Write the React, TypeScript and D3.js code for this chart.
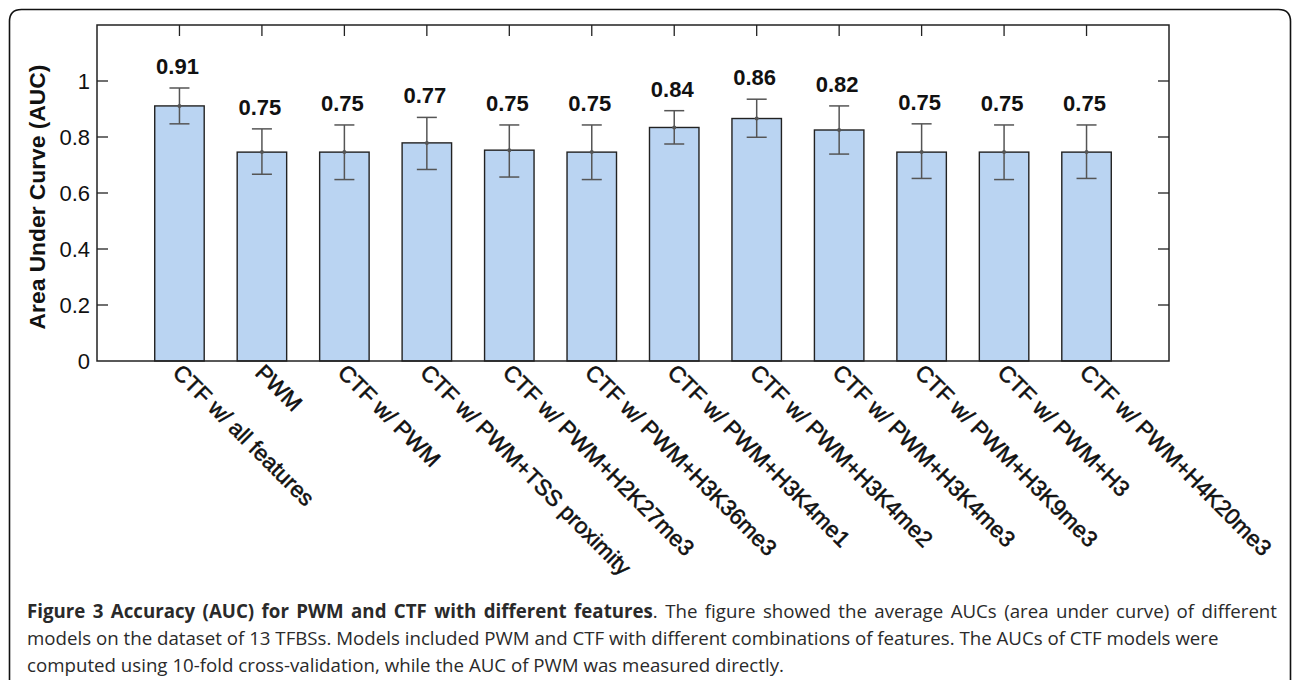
import { useRef, useEffect } from 'react';
import * as d3 from 'd3';

const CATEGORIES = [
  'CTF w/ all features',
  'PWM',
  'CTF w/ PWM',
  'CTF w/ PWM+TSS proximity',
  'CTF w/ PWM+H2K27me3',
  'CTF w/ PWM+H3K36me3',
  'CTF w/ PWM+H3K4me1',
  'CTF w/ PWM+H3K4me2',
  'CTF w/ PWM+H3K4me3',
  'CTF w/ PWM+H3K9me3',
  'CTF w/ PWM+H3',
  'CTF w/ PWM+H4K20me3',
];

const AUC_MEAN = [0.911, 0.746, 0.746, 0.779, 0.753, 0.746, 0.834, 0.866, 0.825, 0.746, 0.746, 0.746];
const AUC_HIGH = [0.975, 0.829, 0.843, 0.870, 0.843, 0.843, 0.894, 0.935, 0.911, 0.847, 0.843, 0.843];
const AUC_LOW = [0.847, 0.667, 0.648, 0.684, 0.657, 0.648, 0.775, 0.799, 0.739, 0.652, 0.648, 0.652];
const BAR_LABELS = ['0.91', '0.75', '0.75', '0.77', '0.75', '0.75', '0.84', '0.86', '0.82', '0.75', '0.75', '0.75'];
const Y_TICKS = [0, 0.2, 0.4, 0.6, 0.8, 1];
const Y_TICK_LABELS = ['0', '0.2', '0.4', '0.6', '0.8', '1'];

const CAPTION_TITLE = 'Figure 3 Accuracy (AUC) for PWM and CTF with different features';
const CAPTION_LINES = [
  '. The figure showed the average AUCs (area under curve) of different',
  'models on the dataset of 13 TFBSs. Models included PWM and CTF with different combinations of features. The AUCs of CTF models were',
  'computed using 10-fold cross-validation, while the AUC of PWM was measured directly.',
];

const W = 1292;
const H = 680;
const FONT = '"Liberation Sans", Arial, sans-serif';
const CAPTION_FONT = '"Open Sans", "Noto Sans", sans-serif';

export default function App() {
  const svgRef = useRef<SVGSVGElement | null>(null);

  useEffect(() => {
    const svg = d3.select(svgRef.current);
    svg.selectAll('*').remove();

    const left = 97;
    const right = 1169;
    const top = 25;
    const bottom = 361;

    const x = d3.scaleLinear().domain([0, CATEGORIES.length + 1]).range([left, right]);
    const y = d3.scaleLinear().domain([0, 1.2]).range([bottom, top]);
    const barW = (x(1) - x(0)) * 0.6;

    // outer frame (open at the bottom, the page cuts it off)
    svg
      .append('path')
      .attr('d', `M9.5,${H + 5} V21.5 Q9.5,9.5 21.5,9.5 H1278.5 Q1290.5,9.5 1290.5,21.5 V${H + 5}`)
      .attr('fill', 'none')
      .attr('stroke', '#111')
      .attr('stroke-width', 1.6);

    const g = svg.append('g');

    // bars
    g.selectAll('.bar')
      .data(AUC_MEAN)
      .join('rect')
      .attr('class', 'bar')
      .attr('x', (_, i) => x(i + 1) - barW / 2)
      .attr('y', (d) => y(d))
      .attr('width', barW)
      .attr('height', (d) => y(0) - y(d))
      .attr('fill', '#bad4f2')
      .attr('stroke', '#222')
      .attr('stroke-width', 1.4);

    // error bars
    const err = g.selectAll('.err').data(AUC_MEAN).join('g').attr('class', 'err');
    err.append('line')
      .attr('x1', (_, i) => x(i + 1))
      .attr('x2', (_, i) => x(i + 1))
      .attr('y1', (_, i) => y(AUC_LOW[i]))
      .attr('y2', (_, i) => y(AUC_HIGH[i]));
    err.append('line')
      .attr('x1', (_, i) => x(i + 1) - 10)
      .attr('x2', (_, i) => x(i + 1) + 10)
      .attr('y1', (_, i) => y(AUC_HIGH[i]))
      .attr('y2', (_, i) => y(AUC_HIGH[i]));
    err.append('line')
      .attr('x1', (_, i) => x(i + 1) - 10)
      .attr('x2', (_, i) => x(i + 1) + 10)
      .attr('y1', (_, i) => y(AUC_LOW[i]))
      .attr('y2', (_, i) => y(AUC_LOW[i]));
    err.selectAll('line').attr('stroke', '#555').attr('stroke-width', 1.5);
    err.append('circle')
      .attr('cx', (_, i) => x(i + 1))
      .attr('cy', (d) => y(d))
      .attr('r', 2)
      .attr('fill', '#555');

    // value labels
    g.selectAll('.val')
      .data(BAR_LABELS)
      .join('text')
      .attr('class', 'val')
      .attr('x', (_, i) => x(i + 1) - 2)
      .attr('y', (_, i) => y(AUC_HIGH[i]) - 14)
      .attr('text-anchor', 'middle')
      .attr('font-family', FONT)
      .attr('font-weight', 'bold')
      .attr('font-size', 22)
      .attr('fill', '#111')
      .text((d) => d);

    // axes box
    g.append('rect')
      .attr('x', left)
      .attr('y', top)
      .attr('width', right - left)
      .attr('height', bottom - top)
      .attr('fill', 'none')
      .attr('stroke', '#222')
      .attr('stroke-width', 1.5);

    // y ticks (inward, both sides)
    const yt = g.selectAll('.yt').data(Y_TICKS.slice(1)).join('g').attr('class', 'yt');
    yt.append('line').attr('x1', left).attr('x2', left + 11).attr('y1', (d) => y(d)).attr('y2', (d) => y(d));
    yt.append('line').attr('x1', right - 11).attr('x2', right).attr('y1', (d) => y(d)).attr('y2', (d) => y(d));
    yt.selectAll('line').attr('stroke', '#222').attr('stroke-width', 1.3);

    g.selectAll('.ytl')
      .data(Y_TICKS)
      .join('text')
      .attr('class', 'ytl')
      .attr('x', left - 7)
      .attr('y', (d) => y(d))
      .attr('dy', '0.36em')
      .attr('text-anchor', 'end')
      .attr('font-family', FONT)
      .attr('font-size', 22)
      .attr('fill', '#111')
      .text((_, i) => Y_TICK_LABELS[i]);

    // top ticks
    g.selectAll('.xt')
      .data(CATEGORIES)
      .join('line')
      .attr('class', 'xt')
      .attr('x1', (_, i) => x(i + 1))
      .attr('x2', (_, i) => x(i + 1))
      .attr('y1', top)
      .attr('y2', top + 11)
      .attr('stroke', '#222')
      .attr('stroke-width', 1.3);

    // rotated category labels
    g.selectAll('.xl')
      .data(CATEGORIES)
      .join('text')
      .attr('class', 'xl')
      .attr('transform', (_, i) => `translate(${x(i + 1) + 4},${bottom + 1}) rotate(45)`)
      .attr('dy', '0.75em')
      .attr('text-anchor', 'start')
      .attr('font-family', FONT)
      .attr('font-size', 22.5)
      .attr('fill', '#111')
      .attr('stroke', '#111')
      .attr('stroke-width', 0.55)
      .text((d) => d);

    // y axis title
    g.append('text')
      .attr('transform', `translate(45,197) rotate(-90)`)
      .attr('text-anchor', 'middle')
      .attr('font-family', FONT)
      .attr('font-weight', 'bold')
      .attr('font-size', 22.8)
      .attr('fill', '#111')
      .text('Area Under Curve (AUC)');

    // caption
    const cap = svg.append('g').attr('font-family', CAPTION_FONT).attr('font-size', 18.7).attr('fill', '#2a2a2a');
    const l1 = cap.append('text').attr('x', 27).attr('y', 618);
    l1.append('tspan').attr('font-weight', 'bold').text(CAPTION_TITLE);
    l1.append('tspan').text(CAPTION_LINES[0]);
    // first line is justified to the full column width
    const node = l1.node() as SVGTextElement;
    const natural = node.getComputedTextLength();
    const spaces = (CAPTION_TITLE + CAPTION_LINES[0]).split(' ').length - 1;
    const extra = (1250 - natural) / spaces;
    if (extra > 0) l1.attr('word-spacing', extra);
    cap.append('text').attr('x', 27).attr('y', 645).text(CAPTION_LINES[1]);
    cap.append('text').attr('x', 27).attr('y', 672).text(CAPTION_LINES[2]);
  }, []);

  return (
    <svg
      ref={svgRef}
      width={W}
      height={H}
      style={{ position: 'absolute', left: 0, top: 0, background: '#fff' }}
    />
  );
}
